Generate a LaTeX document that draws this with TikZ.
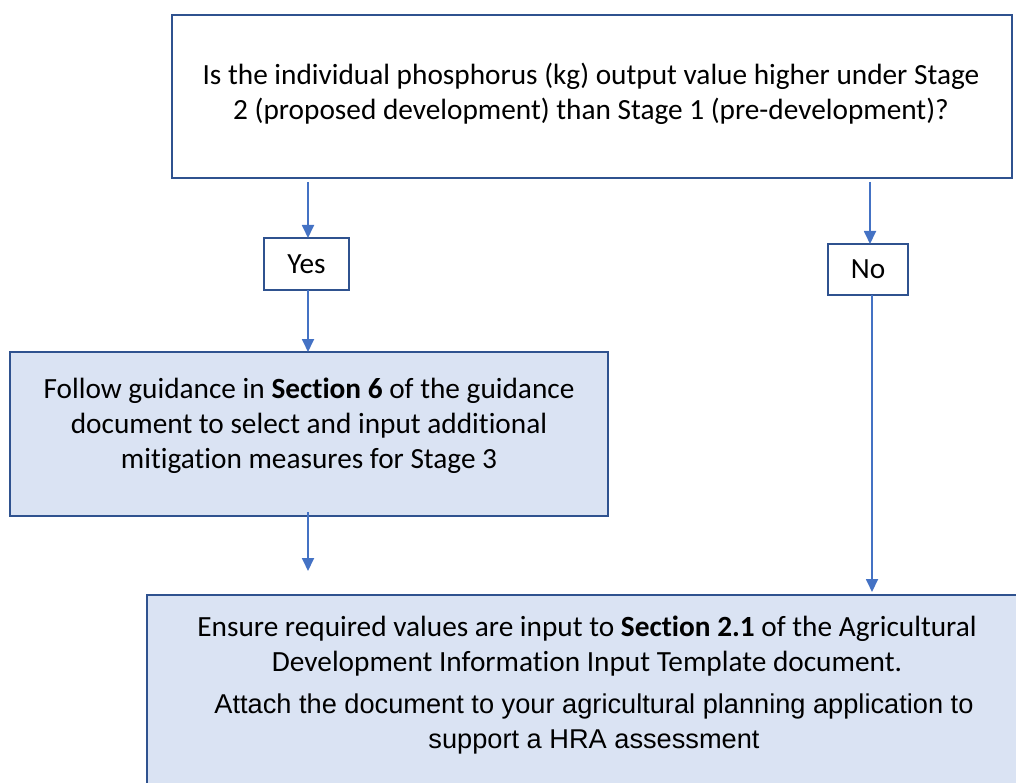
\documentclass[tikz,border=0pt]{standalone}
\usepackage{fontspec}
\setmainfont{Carlito}[Ligatures=NoCommon]
\newfontfamily\arialfont{Liberation Sans}
\usetikzlibrary{arrows.meta}
\definecolor{arrowblue}{HTML}{4472C4}
\definecolor{edgeblue}{HTML}{2F528F}
\definecolor{fillblue}{HTML}{DAE3F3}
\begin{document}
\begin{tikzpicture}[x=1pt,y=-1pt,
  box/.style={draw=edgeblue, line width=2pt, inner sep=0pt, outer sep=0pt},
  txt/.style={align=center, inner sep=0pt, font=\fontsize{29.3}{35}\selectfont},
  conn/.style={draw=arrowblue, line width=1.8pt, -{Triangle[length=13pt,width=12pt]}}
]
\useasboundingbox (0,0) rectangle (1016,783);
% top box
\node[box, minimum width=840pt, minimum height=163pt] (top) at (592,96.5) {};
\node[txt] (toptxt) at (591,94) {Is the individual phosphorus (kg) output value higher under Stage\\2 (proposed development) than Stage 1 (pre-development)?};
% yes / no
\node[box, minimum width=85pt, minimum height=52pt] (yes) at (306.5,264) {};
\node[txt] (yestxt) at (yes) {Yes};
\node[box, minimum width=80pt, minimum height=51pt] (no) at (868,269.5) {};
\node[txt] (notxt) at (no) {No};
% section 6 box
\node[box, fill=fillblue, minimum width=598pt, minimum height=164pt] (sec) at (309,434) {};
\node[txt] (sectxt) at (309,426) {Follow guidance in \textbf{Section 6} of the guidance\\document to select and input additional\\mitigation measures for Stage 3};
% bottom box
\node[box, fill=fillblue, minimum width=880pt, minimum height=200pt, anchor=north west] (bot) at (147,595) {};
\node[txt] (bottxt) at (587,646) {Ensure required values are input to \textbf{Section 2.1} of the Agricultural\\Development Information Input Template document.};
\node[align=center, inner sep=0pt, font=\arialfont\fontsize{27.2}{35}\selectfont] (bottxt2) at (594,724) {Attach the document to your agricultural planning application to\\support a HRA assessment};
% coordinates
\coordinate (y0) at (308,182);
\coordinate (n0) at (870,182);
\coordinate (s0) at (308,512);
\coordinate (s1) at (308,571);
\coordinate (n1) at (872,295);
\coordinate (n2) at (872,592);
% connectors
\draw[conn] (y0) -- (yes.north -| y0);
\draw[conn] (yes.south -| y0) -- (sec.north -| y0);
\draw[conn] (s0) -- (s1);
\draw[conn] (n0) -- (no.north -| n0);
\draw[conn] (n1) -- (n2);
\end{tikzpicture}
\end{document}
